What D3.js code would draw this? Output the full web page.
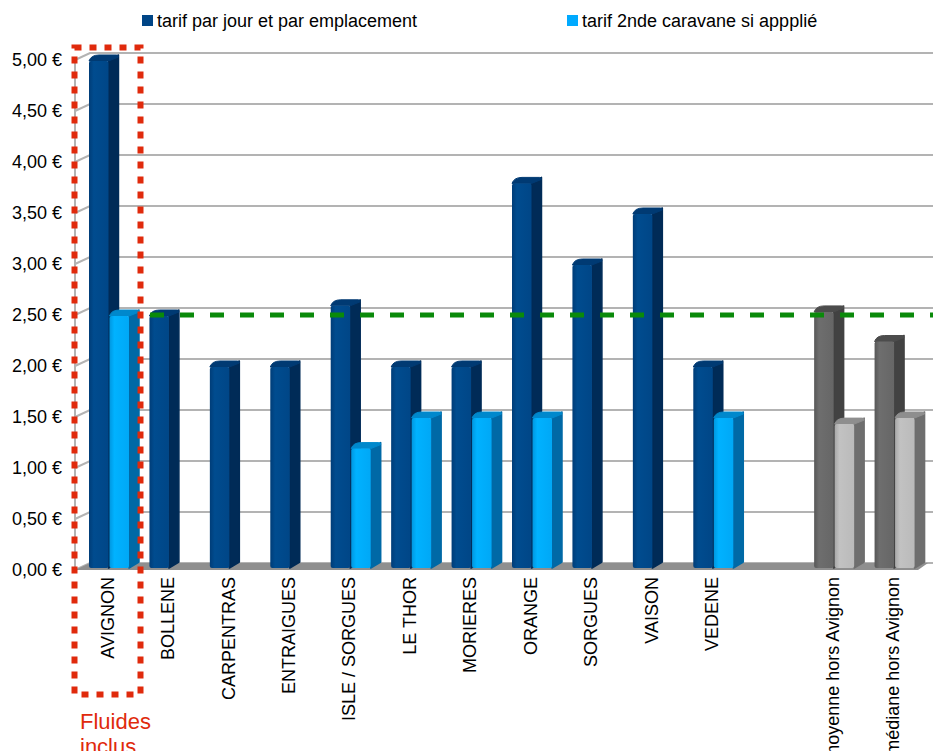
<!DOCTYPE html>
<html>
<head>
<meta charset="utf-8">
<script src="https://cdn.jsdelivr.net/npm/d3@7/dist/d3.min.js"></script>
<style>
  html, body { margin: 0; padding: 0; background: #ffffff; }
  svg { display: block; font-family: "Liberation Sans", Arial, sans-serif; }
</style>
</head>
<body>
<svg id="chart" width="933" height="751"></svg>
<script>
// Tarifs des aires d'accueil (€ par jour)
const communes = ["AVIGNON", "BOLLENE", "CARPENTRAS", "ENTRAIGUES", "ISLE / SORGUES",
  "LE THOR", "MORIERES", "ORANGE", "SORGUES", "VAISON", "VEDENE"];
const syntheses = ["moyenne hors Avignon", "médiane hors Avignon"];
const tarifEmplacement = [5.00, 2.50, 2.00, 2.00, 2.60, 2.00, 2.00, 3.80, 3.00, 3.50, 2.00];
const tarifCaravane   = [2.50, null, null, null, 1.20, 1.50, 1.50, 1.50, null, null, 1.50];
const synthEmplacement = [2.54, 2.25];
const synthCaravane    = [1.44, 1.50];
const seriesNames = ["tarif par jour et par emplacement", "tarif 2nde caravane si appplié"];
const yTicks = [0, 0.5, 1, 1.5, 2, 2.5, 3, 3.5, 4, 4.5, 5];
const seuil = 2.5;
const noteText = ["Fluides", "inclus"];

const svg = d3.select("#chart");
const defs = svg.append("defs");

// slots: communes, one empty spacer slot, then the two summary columns
const spacer = "__spacer__";
const slots = [...communes, spacer, ...syntheses];

const rows = [];
communes.forEach((c, i) => {
  rows.push({ cat: c, s: 0, v: tarifEmplacement[i], pal: "blue0" });
  if (tarifCaravane[i] != null) rows.push({ cat: c, s: 1, v: tarifCaravane[i], pal: "blue1" });
});
syntheses.forEach((c, i) => {
  rows.push({ cat: c, s: 0, v: synthEmplacement[i], pal: "gray0" });
  rows.push({ cat: c, s: 1, v: synthCaravane[i], pal: "gray1" });
});

const x0 = d3.scaleBand().domain(slots).range([78, 924]).padding(0);
const x1 = d3.scaleBand().domain([0, 1]).range([11, 51]).paddingInner(0.05);
const y = d3.scaleLinear().domain([0, 5]).range([570, 60]);

const axisX = 75, depthX = 15, depthY = 7;

// colour sets: front gradient stops, side, top
const palettes = {
  blue0: { f: ["#003d78", "#004c8f", "#004687"], side: "#002b57", top: "#003a73" },
  blue1: { f: ["#0097e0", "#00b2ff", "#00a8f6"], side: "#0069a6", top: "#0088cc" },
  gray0: { f: ["#575757", "#6e6e6e", "#666666"], side: "#424242", top: "#4c4c4c" },
  gray1: { f: ["#a8a8a8", "#c2c2c2", "#bababa"], side: "#6e6e6e", top: "#8e8e8e" }
};
Object.entries(palettes).forEach(([k, p]) => {
  const g = defs.append("linearGradient").attr("id", "g-" + k)
    .attr("x1", "0").attr("x2", "1").attr("y1", "0").attr("y2", "0");
  g.append("stop").attr("offset", "0").attr("stop-color", p.f[0]);
  g.append("stop").attr("offset", "0.25").attr("stop-color", p.f[1]);
  g.append("stop").attr("offset", "1").attr("stop-color", p.f[2]);
});

// back wall grid lines with the receding join to the front axis
const grid = svg.append("g");
grid.selectAll("path").data(yTicks).join("path")
  .attr("d", v => `M${axisX},${y(v)} L${axisX + depthX},${y(v) - depthY} L933,${y(v) - depthY}`)
  .attr("fill", "none").attr("stroke", "#b3b3b3").attr("stroke-width", 2);
grid.append("line")
  .attr("x1", axisX).attr("x2", axisX).attr("y1", y(5)).attr("y2", y(0))
  .attr("stroke", "#b3b3b3").attr("stroke-width", 2);

// floor slab
svg.append("path")
  .attr("d", `M${axisX},${y(0)} L${axisX + depthX},${y(0) - depthY} L${x0.range()[1] + 4},${y(0) - depthY} L${x0.range()[1] - 6},${y(0)} Z`)
  .attr("fill", "#8f8f8f");

// Y axis labels
svg.append("g").selectAll("text").data(yTicks).join("text")
  .attr("x", 62).attr("y", v => y(v)).attr("dy", "0.36em")
  .attr("text-anchor", "end").attr("font-size", 18).attr("fill", "#000")
  .text(v => d3.format(".2f")(v).replace(".", ",") + " €");

// 3D bars
const bw = x1.bandwidth();
const bdx = 10, bdy = 6;
const bars = svg.append("g").selectAll("g").data(rows).join("g");
bars.each(function (d) {
  const g = d3.select(this);
  const p = palettes[d.pal];
  const xl = x0(d.cat) + x1(d.s);
  const yt = y(d.v) + 1;
  const yb = y(0) - 2;
  // side face
  g.append("path")
    .attr("d", `M${xl + bw},${yt} L${xl + bw + bdx},${yt - bdy} L${xl + bw + bdx},${yb - bdy} L${xl + bw},${yb} Z`)
    .attr("fill", p.side).attr("stroke", p.side).attr("stroke-width", 1.5).attr("stroke-linejoin", "round");
  // top face
  g.append("path")
    .attr("d", `M${xl},${yt} Q${xl + 2},${yt - bdy} ${xl + bdx},${yt - bdy} L${xl + bw + bdx - 2},${yt - bdy} Q${xl + bw + bdx},${yt - bdy} ${xl + bw + bdx},${yt - bdy + 2} L${xl + bw},${yt} Z`)
    .attr("fill", p.top).attr("stroke", p.top).attr("stroke-width", 1).attr("stroke-linejoin", "round");
  // front face
  g.append("rect")
    .attr("x", xl).attr("y", yt).attr("width", bw).attr("height", yb - yt)
    .attr("rx", 2).attr("fill", `url(#g-${d.pal})`);
});

// threshold line
svg.append("line")
  .attr("x1", 150).attr("x2", 933).attr("y1", y(seuil)).attr("y2", y(seuil))
  .attr("stroke", "#0a8a0a").attr("stroke-width", 5).attr("stroke-dasharray", "14,16");

// category labels (rotated)
svg.append("g").selectAll("text").data(slots.filter(s => s !== spacer)).join("text")
  .attr("transform", c => `translate(${x0(c) + x0.bandwidth() / 2 - 1},577) rotate(-90)`)
  .attr("dy", "0.36em").attr("text-anchor", "end")
  .attr("font-size", 18).attr("fill", "#000")
  .text(c => c);

// legend
const legend = svg.append("g");
const legX = [142, 567];
const legColors = ["#004586", "#00aaff"];
seriesNames.forEach((n, i) => {
  legend.append("rect").attr("x", legX[i]).attr("y", 15).attr("width", 11).attr("height", 11).attr("fill", legColors[i]);
  legend.append("text").attr("x", legX[i] + 15).attr("y", 27).attr("font-size", 18).attr("fill", "#000").text(n);
});

// highlight box around AVIGNON with its note
svg.append("rect")
  .attr("x", 74.5).attr("y", 47.5).attr("width", 66).attr("height", 647)
  .attr("fill", "none").attr("stroke", "#e02a0c").attr("stroke-width", 6)
  .attr("stroke-dasharray", "7,8");
svg.append("g").selectAll("text").data(noteText).join("text")
  .attr("x", 80).attr("y", (d, i) => 729 + i * 25)
  .attr("font-size", 22).attr("fill", "#e02a0c").text(d => d);
</script>
</body>
</html>
